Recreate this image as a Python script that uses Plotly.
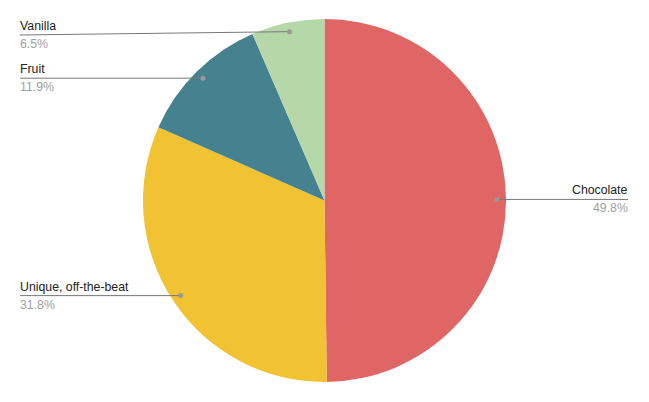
import math
import plotly.graph_objects as go

labels = ["Chocolate", "Unique, off-the-beat", "Fruit", "Vanilla"]
values = [49.8, 31.8, 11.9, 6.5]
colors = ["#e06666", "#f1c232", "#45818e", "#b6d7a8"]

W, H = 649, 402
cx, cy, r = 324.5, 200.5, 181.5

fig = go.Figure(go.Pie(
    labels=labels, values=values, sort=False, direction="clockwise", rotation=0,
    marker=dict(colors=colors, line=dict(width=0)),
    textinfo="none", hoverinfo="label+percent", showlegend=False,
    domain=dict(x=[(cx - r) / W, (cx + r) / W], y=[(H - cy - r) / H, (H - cy + r) / H]),
))

def px(x):
    return x / W

def py(y):
    return 1 - y / H

shapes, annots = [], []
total = sum(values)
cum = 0
for lab, v in zip(labels, values):
    mid = (cum + v / 2) / total * 2 * math.pi
    cum += v
    dx, dy = cx + 0.95 * r * math.sin(mid), cy - 0.95 * r * math.cos(mid)
    right = math.sin(mid) > 0
    ly = max(dy, 35)
    lx = 628 if right else 20
    tx = lx + 2 if right else lx - 2
    shapes.append(dict(type="line", xref="paper", yref="paper", x0=px(dx), y0=py(dy),
                       x1=px(lx), y1=py(ly), line=dict(color="#777777", width=1)))
    shapes.append(dict(type="circle", xref="paper", yref="paper",
                       x0=px(dx - 2.5), x1=px(dx + 2.5), y0=py(dy - 2.5), y1=py(dy + 2.5),
                       fillcolor="#999999", line=dict(width=0)))
    anchor = "right" if right else "left"
    annots.append(dict(x=px(tx), y=py(ly), xref="paper", yref="paper", text=lab,
                       showarrow=False, xanchor=anchor, yanchor="bottom",
                       font=dict(family="Liberation Sans, Arial", size=12.3, color="#222222")))
    annots.append(dict(x=px(tx), y=py(ly), xref="paper", yref="paper",
                       text=f"{v / total * 100:.1f}%",
                       showarrow=False, xanchor=anchor, yanchor="top",
                       font=dict(family="Liberation Sans, Arial", size=12.3, color="#a0a0a0")))

fig.update_layout(width=W, height=H, margin=dict(l=0, r=0, t=0, b=0),
                  paper_bgcolor="white", shapes=shapes, annotations=annots)
fig.write_html("out.html", config={"displayModeBar": False},
               post_script="document.body.style.margin='0';document.body.style.overflow='hidden';")
